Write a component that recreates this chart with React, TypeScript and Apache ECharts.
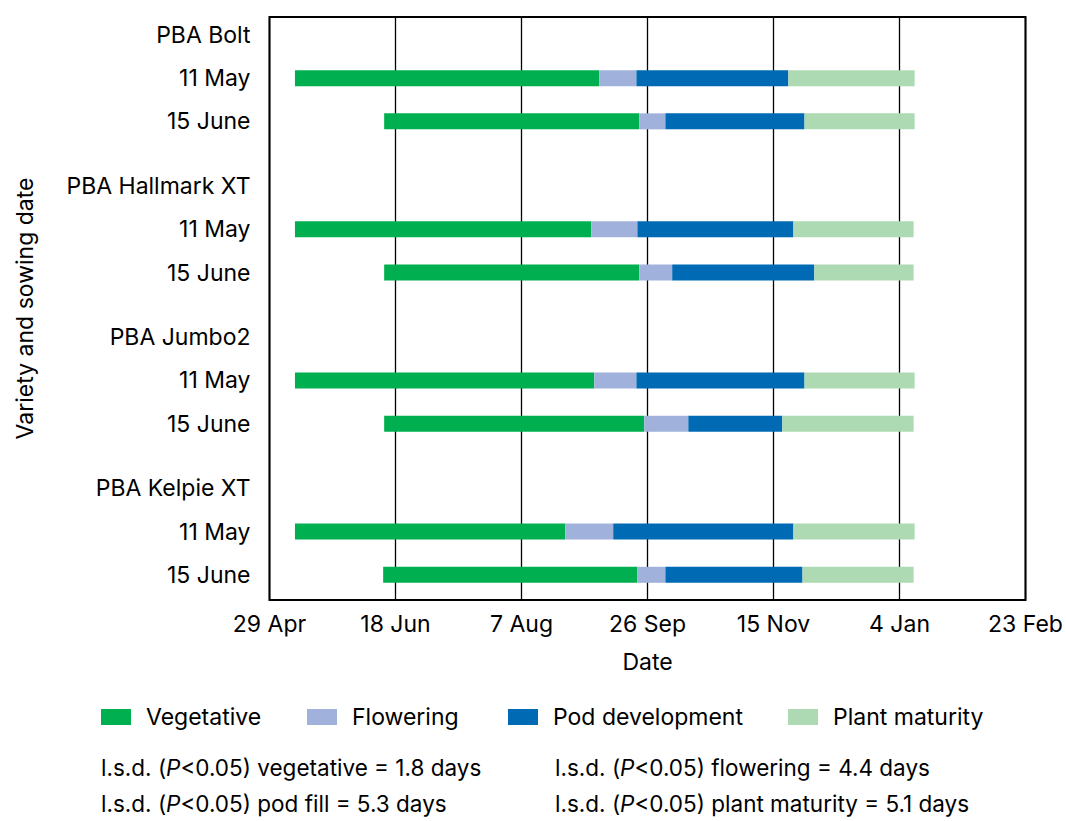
import React, { useEffect, useRef } from "react";
import * as echarts from "echarts";

// X axis: days after 29 Apr, ticks every 50 days
const tickLabels = ["29 Apr", "18 Jun", "7 Aug", "26 Sep", "15 Nov", "4 Jan", "23 Feb"];
const varieties = ["PBA Bolt", "PBA Hallmark XT", "PBA Jumbo2", "PBA Kelpie XT"];
const sowingDates = ["11 May", "15 June"];

// rows: Bolt 11 May, Bolt 15 June, Hallmark 11 May, Hallmark 15 June, Jumbo2 11 May, Jumbo2 15 June, Kelpie 11 May, Kelpie 15 June
// values in days (after 29 Apr)
const startDay = [10.1, 45.5, 10.1, 45.5, 10.1, 45.5, 10.1, 45.1];
const vegetative = [120.8, 101.2, 117.6, 101.2, 118.8, 103.2, 107.3, 100.9];
const flowering = [14.7, 10.4, 18.3, 13.1, 16.7, 17.5, 19.0, 11.1];
const podDevelopment = [60.3, 55.2, 61.9, 56.4, 66.7, 37.3, 71.5, 54.4];
const plantMaturity = [50.1, 43.7, 47.7, 39.4, 43.7, 52.1, 48.1, 44.1];

const phaseNames = ["Vegetative", "Flowering", "Pod development", "Plant maturity"];
const phaseColors = ["#00B050", "#A0B2DC", "#016AB4", "#ADDAB3"];

const lsdLines = [
  ["vegetative = 1.8 days", "flowering = 4.4 days"],
  ["pod fill = 5.3 days", "plant maturity = 5.1 days"],
];

const FONT = "Inter, 'Noto Sans', sans-serif";
const FS = 23;

export default function App() {
  const ref = useRef<HTMLDivElement>(null);

  useEffect(() => {
    if (!ref.current) return;
    const chart = echarts.init(ref.current, undefined, { renderer: "svg" });

    // layout of category slots (fine sub-slots for half-row spacing)
    const SLOTS = 81;
    const labels: string[] = new Array(SLOTS).fill("");
    const cats: string[] = [];
    for (let i = 0; i < SLOTS; i++) cats.push("s" + i);
    const barIndex: number[] = [];
    varieties.forEach((v, g) => {
      const base = 2 + 21 * g;
      labels[base] = v;
      sowingDates.forEach((d, k) => {
        const idx = base + 6 * (k + 1);
        labels[idx] = d;
        barIndex.push(idx);
      });
    });

    const toSeriesData = (arr: number[]) => {
      const out: any[] = new Array(SLOTS).fill("-");
      barIndex.forEach((idx, r) => {
        out[idx] = arr[r];
      });
      return out;
    };

    const phases = [vegetative, flowering, podDevelopment, plantMaturity];

    const series: any[] = [
      {
        type: "bar",
        name: "_base",
        stack: "total",
        barWidth: 16,
        silent: true,
        itemStyle: { color: "rgba(0,0,0,0)" },
        data: toSeriesData(startDay),
      },
      ...phases.map((arr, i) => ({
        type: "bar",
        name: phaseNames[i],
        stack: "total",
        barWidth: 16,
        itemStyle: { color: phaseColors[i] },
        data: toSeriesData(arr),
      })),
    ];

    const legendLefts = [96, 302, 503, 783];
    const legends = phaseNames.map((n, i) => ({
      data: [n],
      left: legendLefts[i],
      top: 700,
      icon: "rect",
      itemWidth: 30,
      itemHeight: 16,
      selectedMode: false,
      textStyle: {
        fontSize: FS,
        fontFamily: FONT,
        color: "#000",
        padding: [0, 0, 0, 10],
        lineHeight: 24,
      },
    }));

    const rich = {
      n: { fontSize: 22.5, fontFamily: FONT, fill: "#000", color: "#000" },
      i: { fontSize: 22.5, fontFamily: FONT, fontStyle: "italic", fill: "#000", color: "#000" },
    };
    const graphics: any[] = [];
    lsdLines.forEach((row, r) => {
      row.forEach((txt, c) => {
        graphics.push({
          type: "text",
          x: c === 0 ? 101 : 555,
          y: r === 0 ? 767 : 803,
          style: {
            text: "{n|l.s.d. (}{i|P}{n|<0.05) " + txt + "}",
            rich,
            verticalAlign: "middle",
            fill: "#000",
          },
        });
      });
    });

    chart.setOption({
      animation: false,
      grid: {
        left: 269.5,
        top: 17,
        width: 756,
        height: 583,
        containLabel: false,
        outerBoundsMode: "none",
        show: true,
        borderColor: "#000",
        borderWidth: 2,
        backgroundColor: "transparent",
      },
      xAxis: {
        type: "value",
        min: 0,
        max: 300,
        interval: 50,
        name: "Date",
        nameLocation: "middle",
        nameGap: 50,
        nameTextStyle: { fontSize: FS, fontFamily: FONT, color: "#000" },
        axisLine: { show: false },
        axisTick: { show: false },
        splitLine: { show: true, lineStyle: { color: "#000", width: 1.3 } },
        axisLabel: {
          fontSize: FS,
          fontFamily: FONT,
          color: "#000",
          margin: 12,
          formatter: (v: number) => tickLabels[Math.round(v / 50)] ?? "",
        },
      },
      yAxis: {
        type: "category",
        inverse: true,
        data: cats,
        name: "Variety and sowing date",
        nameLocation: "middle",
        nameGap: 233,
        nameTextStyle: { fontSize: FS, fontFamily: FONT, color: "#000" },
        axisLine: { show: false },
        axisTick: { show: false },
        splitLine: { show: false },
        axisLabel: {
          interval: 0,
          fontSize: FS,
          fontFamily: FONT,
          color: "#000",
          margin: 19,
          formatter: (_v: string, i: number) => labels[i],
        },
      },
      legend: legends,
      graphic: graphics,
      series,
    });

    return () => chart.dispose();
  }, []);

  return (
    <div
      ref={ref}
      style={{ position: "absolute", left: 0, top: 0, width: 1066, height: 821 }}
    />
  );
}
